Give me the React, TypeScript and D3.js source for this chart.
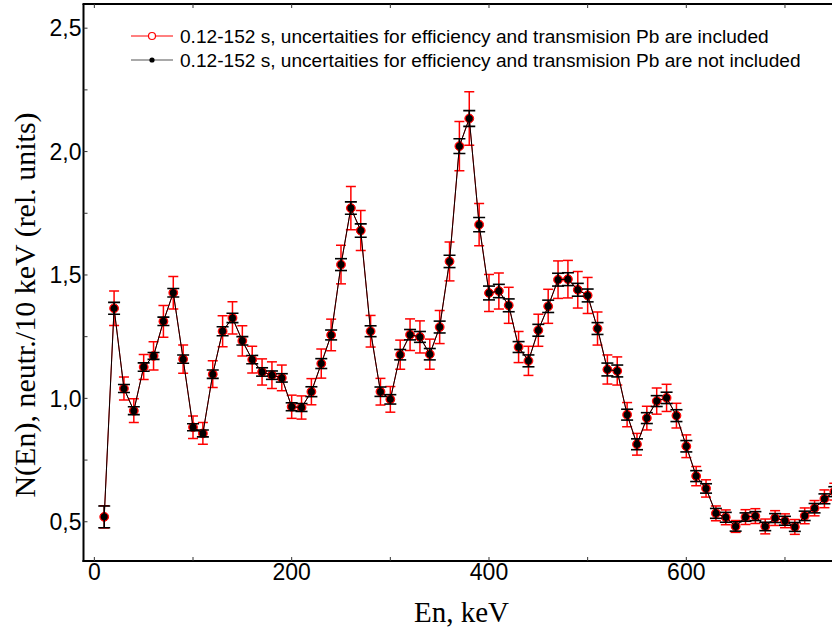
import React from "react";
import * as d3 from "d3";

const energies = [10,20,30,40,50,60,70,80,90,100,110,120,130,140,150,160,170,180,190,200,210,220,230,240,250,260,270,280,290,300,310,320,330,340,350,360,370,380,390,400,410,420,430,440,450,460,470,480,490,500,510,520,530,540,550,560,570,580,590,600,610,620,630,640,650,660,670,680,690,700,710,720,730,740,750];
const values = [0.52,1.365,1.04,0.95,1.127,1.172,1.312,1.428,1.159,0.883,0.858,1.098,1.272,1.326,1.233,1.157,1.107,1.094,1.083,0.966,0.963,1.027,1.141,1.257,1.542,1.771,1.68,1.272,1.027,0.996,1.177,1.258,1.249,1.179,1.289,1.555,2.022,2.134,1.704,1.427,1.435,1.377,1.208,1.152,1.276,1.373,1.481,1.483,1.44,1.417,1.283,1.117,1.111,0.934,0.814,0.92,0.989,1.002,0.93,0.806,0.685,0.635,0.534,0.518,0.481,0.519,0.523,0.481,0.515,0.504,0.479,0.524,0.555,0.593,0.622];
const errIncluded = [0.045,0.07,0.047,0.048,0.051,0.057,0.064,0.066,0.057,0.046,0.044,0.054,0.063,0.065,0.061,0.054,0.053,0.054,0.052,0.047,0.047,0.053,0.059,0.064,0.078,0.088,0.081,0.064,0.054,0.052,0.059,0.064,0.065,0.061,0.067,0.079,0.1,0.108,0.086,0.075,0.073,0.073,0.063,0.059,0.065,0.069,0.076,0.076,0.074,0.073,0.067,0.059,0.057,0.049,0.044,0.048,0.053,0.055,0.05,0.046,0.039,0.035,0.03,0.03,0.024,0.03,0.03,0.03,0.03,0.028,0.03,0.032,0.031,0.036,0.034];
const errNotIncluded = [0.044,0.024,0.016,0.016,0.017,0.014,0.017,0.017,0.017,0.014,0.014,0.017,0.018,0.019,0.017,0.017,0.017,0.017,0.017,0.016,0.016,0.02,0.02,0.02,0.024,0.025,0.027,0.022,0.019,0.019,0.021,0.021,0.022,0.023,0.024,0.025,0.03,0.032,0.029,0.028,0.027,0.026,0.022,0.024,0.024,0.025,0.026,0.026,0.026,0.026,0.024,0.026,0.024,0.022,0.022,0.022,0.022,0.023,0.024,0.023,0.022,0.019,0.02,0.02,0.019,0.017,0.018,0.017,0.018,0.018,0.018,0.019,0.019,0.02,0.02];

const xTickValues = [0, 200, 400, 600];
const xMinorTicks = [0, 100, 200, 300, 400, 500, 600, 700];
const yTickValues = [0.5, 1.0, 1.5, 2.0, 2.5];
const yMinorTicks = [0.5, 0.75, 1.0, 1.25, 1.5, 1.75, 2.0, 2.25, 2.5];
const legendLabels = [
  "0.12-152 s, uncertaities for efficiency and transmision Pb are included",
  "0.12-152 s, uncertaities for efficiency and transmision Pb are not included",
];
const xTitle = "En, keV";
const yTitle = "N(En), neutr./10 keV (rel. units)";

const W = 832, H = 633;
const LEFT = 83.5, TOP = 4, BOTTOM = 561;

export default function App() {
  const x = d3.scaleLinear().domain([-11, 750]).range([LEFT, 834.3]);
  const y = d3.scaleLinear().domain([0.341, 2.598]).range([BOTTOM, TOP]);
  const pts = energies.map((e, i) => ({ e, v: values[i], r: errIncluded[i], b: errNotIncluded[i] }));
  const line = d3.line<any>().x((d) => x(d.e)).y((d) => y(d.v));
  const path = line(pts) || "";
  const fmt = (v: number) => d3.format(".1f")(v).replace(".", ",");
  const sans = "Liberation Sans, Arial, sans-serif";
  const serif = "Liberation Serif, Times New Roman, serif";

  return (
    <svg width={W} height={H} style={{ position: "absolute", left: 0, top: 0, background: "#fff" }}>
      <defs>
        <clipPath id="plot">
          <rect x={LEFT} y={TOP} width={W - LEFT} height={BOTTOM - TOP} />
        </clipPath>
      </defs>
      <rect x={0} y={0} width={W} height={H} fill="#fff" />
      <g clipPath="url(#plot)">
        {pts.map((d, i) => (
          <g key={"r" + i} stroke="#ff0000" strokeWidth={1.5}>
            <line x1={x(d.e)} x2={x(d.e)} y1={y(d.v + d.r)} y2={y(d.v - d.r)} />
            <line x1={x(d.e) - 5} x2={x(d.e) + 5} y1={y(d.v + d.r)} y2={y(d.v + d.r)} />
            <line x1={x(d.e) - 5} x2={x(d.e) + 5} y1={y(d.v - d.r)} y2={y(d.v - d.r)} />
          </g>
        ))}
        <path d={path} fill="none" stroke="#ff0000" strokeWidth={1} />
        {pts.map((d, i) => (
          <circle key={"rc" + i} cx={x(d.e)} cy={y(d.v)} r={4.4} fill="#ff0000" stroke="#ff0000" strokeWidth={1} />
        ))}
        {pts.map((d, i) => (
          <g key={"b" + i} stroke="#000" strokeWidth={1.6}>
            <line x1={x(d.e)} x2={x(d.e)} y1={y(d.v + d.b)} y2={y(d.v - d.b)} />
            <line x1={x(d.e) - 6} x2={x(d.e) + 6} y1={y(d.v + d.b)} y2={y(d.v + d.b)} />
            <line x1={x(d.e) - 6} x2={x(d.e) + 6} y1={y(d.v - d.b)} y2={y(d.v - d.b)} />
          </g>
        ))}
        <path d={path} fill="none" stroke="#000" strokeWidth={1} />
        {pts.map((d, i) => (
          <circle key={"bc" + i} cx={x(d.e)} cy={y(d.v)} r={3.5} fill="#000" />
        ))}
      </g>

      <line x1={LEFT} x2={LEFT} y1={TOP} y2={BOTTOM + 1} stroke="#000" strokeWidth={2} />
      <line x1={LEFT - 1} x2={W} y1={BOTTOM} y2={BOTTOM} stroke="#000" strokeWidth={2} />
      <line x1={LEFT - 1} x2={W} y1={TOP} y2={TOP} stroke="#000" strokeWidth={2} />

      {xMinorTicks.map((t) => (
        <g key={"xt" + t} stroke="#333" strokeWidth={1}>
          <line x1={x(t)} x2={x(t)} y1={BOTTOM} y2={BOTTOM - 4} />
          <line x1={x(t)} x2={x(t)} y1={TOP} y2={TOP + 4} />
        </g>
      ))}
      {yMinorTicks.map((t) => (
        <line key={"yt" + t} x1={LEFT} x2={LEFT + 4} y1={y(t)} y2={y(t)} stroke="#333" strokeWidth={1} />
      ))}

      {xTickValues.map((t) => (
        <text key={"xl" + t} x={x(t)} y={580} textAnchor="middle" fontFamily={sans} fontSize={23} fill="#000">
          {t}
        </text>
      ))}
      {yTickValues.map((t) => (
        <text key={"yl" + t} x={81.5} y={y(t) + 8.3} textAnchor="end" fontFamily={sans} fontSize={23} fill="#000">
          {fmt(t)}
        </text>
      ))}

      <text x={461.5} y={621.5} textAnchor="middle" fontFamily={serif} fontSize={29} fill="#000">
        {xTitle}
      </text>
      <text transform={`translate(35,305) rotate(-90)`} textAnchor="middle" fontFamily={serif} fontSize={30} fill="#000">
        {yTitle}
      </text>

      <g>
        <line x1={131} x2={173} y1={36} y2={36} stroke="#ff0000" strokeWidth={1} />
        <circle cx={152} cy={36} r={3.5} fill="#fff" stroke="#ff0000" strokeWidth={1.2} />
        <text x={180} y={43} fontFamily={sans} fontSize={19.1} fill="#000">{legendLabels[0]}</text>
        <line x1={131} x2={173} y1={60} y2={60} stroke="#555" strokeWidth={1.2} />
        <circle cx={152} cy={60} r={2.6} fill="#000" />
        <text x={180} y={66.5} fontFamily={sans} fontSize={19.1} fill="#000">{legendLabels[1]}</text>
      </g>
    </svg>
  );
}
